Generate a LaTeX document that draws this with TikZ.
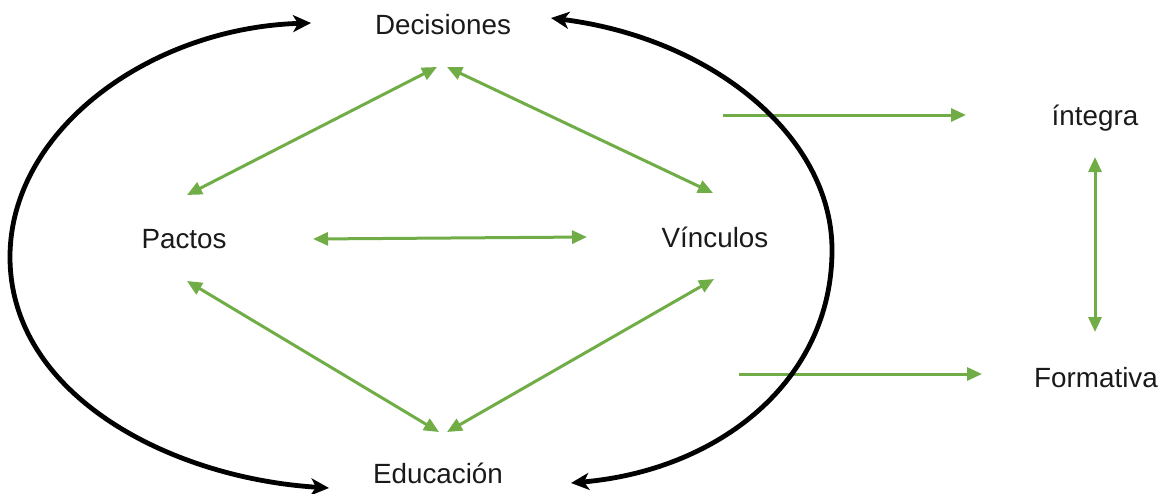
\documentclass[tikz,border=0pt]{standalone}
\usepackage{fontspec}
\setmainfont{Liberation Sans}
\usetikzlibrary{arrows.meta}
\definecolor{grn}{HTML}{70AD47}
\definecolor{txt}{HTML}{1A1A1A}
\tikzset{
  lbl/.style={inner sep=0pt, font=\fontsize{13.9}{16}\selectfont, text=txt},
  gtip/.tip={Triangle[length=7.5pt,width=6.5pt]},
  btip/.tip={Stealth[length=9pt,width=8.5pt,inset=2.5pt]},
  garrow/.style={draw=grn, line width=1.5pt, -gtip},
  gboth/.style={draw=grn, line width=1.5pt, gtip-gtip},
  bboth/.style={draw=black, line width=2.4pt, btip-btip}
}
\begin{document}
\begin{tikzpicture}[x=0.5pt,y=-0.5pt]
\useasboundingbox (0,0) rectangle (1159,493);
% labels
\node[lbl] (dec) at (443,25) {Decisiones};
\node[lbl] (pac) at (184,239) {Pactos};
\node[lbl] (vin) at (715,237) {Vínculos};
\node[lbl] (edu) at (438,473) {Educación};
\node[lbl] (int) at (1095,118) {íntegra};
\node[lbl] (for) at (1096,378) {Formativa};
% endpoints
\coordinate (decL) at (437,67);
\coordinate (decR) at (447,67);
\coordinate (pacT) at (187,195);
\coordinate (pacR) at (313,239);
\coordinate (pacB) at (187,281);
\coordinate (vinT) at (713,193);
\coordinate (vinL) at (587,237);
\coordinate (vinB) at (714,279);
\coordinate (eduL) at (439,432);
\coordinate (eduR) at (447,432);
\coordinate (s1) at (723,115);
\coordinate (e1) at (966,115);
\coordinate (s2) at (739,374);
\coordinate (e2) at (982,374);
\coordinate (vT) at (1095,157);
\coordinate (vB) at (1095,332);
\coordinate (lt) at (311,23);
\coordinate (lm) at (10,257);
\coordinate (lb) at (329,488);
\coordinate (rt) at (551,18);
\coordinate (rm) at (832,250);
\coordinate (rb) at (571,483);
% green arrows
\draw[gboth] (decL) -- (pacT);
\draw[gboth] (decR) -- (vinT);
\draw[gboth] (pacR) -- (vinL);
\draw[gboth] (pacB) -- (eduL);
\draw[gboth] (vinB) -- (eduR);
\draw[garrow] (s1) -- (e1);
\draw[garrow] (s2) -- (e2);
\draw[gboth] (vT) -- (vB);
% black arcs
\draw[bboth]
  (lt) .. controls (150,28) and (10,130) .. (lm) .. controls (10,395) and (170,478) .. (lb);
\draw[bboth]
  (rt) .. controls (710,38) and (832,135) .. (rm) .. controls (832,380) and (720,470) .. (rb);
\end{tikzpicture}
\end{document}
